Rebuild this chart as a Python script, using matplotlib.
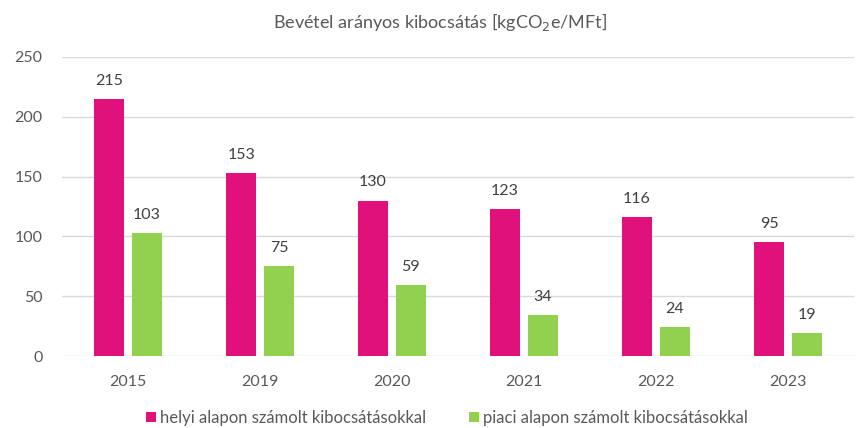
import matplotlib
matplotlib.use("Agg")
import matplotlib.pyplot as plt
import numpy as np

years = ["2015", "2019", "2020", "2021", "2022", "2023"]
helyi = [215, 153, 130, 123, 116, 95]
piaci = [103, 75, 59, 34, 24, 19]
series_names = ["helyi alapon számolt kibocsátásokkal", "piaci alapon számolt kibocsátásokkal"]

pink = "#E0117A"
green = "#92D050"
txt = "#595959"

plt.rcParams['font.family'] = ['Lato', 'DejaVu Sans']

fig = plt.figure(figsize=(8.59, 4.28), dpi=100)
ax = fig.add_axes([62/859, (428-356)/428, (854-62)/859, 299/428])

x = np.arange(len(years))
w = 0.225
off = 0.143
b1 = ax.bar(x - off, helyi, w, color=pink, label=series_names[0], zorder=3)
b2 = ax.bar(x + off, piaci, w, color=green, label=series_names[1], zorder=3)

for bars, vals in ((b1, helyi), (b2, piaci)):
    for r, v in zip(bars, vals):
        ax.annotate(str(v), (r.get_x() + r.get_width()/2, v), xytext=(0, 8),
                    textcoords="offset points", ha="center", va="bottom",
                    fontsize=11.5, color="#404040")

ax.set_xlim(-0.5, len(years) - 0.5)
ax.set_ylim(0, 250)
ax.set_yticks(np.arange(0, 251, 50))
ax.set_xticks(x)
ax.set_xticklabels(years)
ax.tick_params(axis='both', length=0, labelsize=11.5, labelcolor=txt)
ax.tick_params(axis='x', pad=14)
ax.tick_params(axis='y', pad=14)
ax.grid(axis='y', color="#D9D9D9", linewidth=1, zorder=0)
for s in ax.spines.values():
    s.set_visible(False)

fig.text(440/859, 1 - 22/428, "Bevétel arányos kibocsátás [kgCO$_2$e/MFt]", ha="center", va="center",
         fontsize=13, color=txt)

fig.legend(handles=[b1, b2], labels=series_names, loc="center", bbox_to_anchor=(447/859, 1 - 418/428),
           ncol=2, frameon=False, fontsize=12, labelcolor=txt, handlelength=0.6, handleheight=0.6,
           handletextpad=0.25, columnspacing=2.6)

fig.savefig("out.png", dpi=100)
